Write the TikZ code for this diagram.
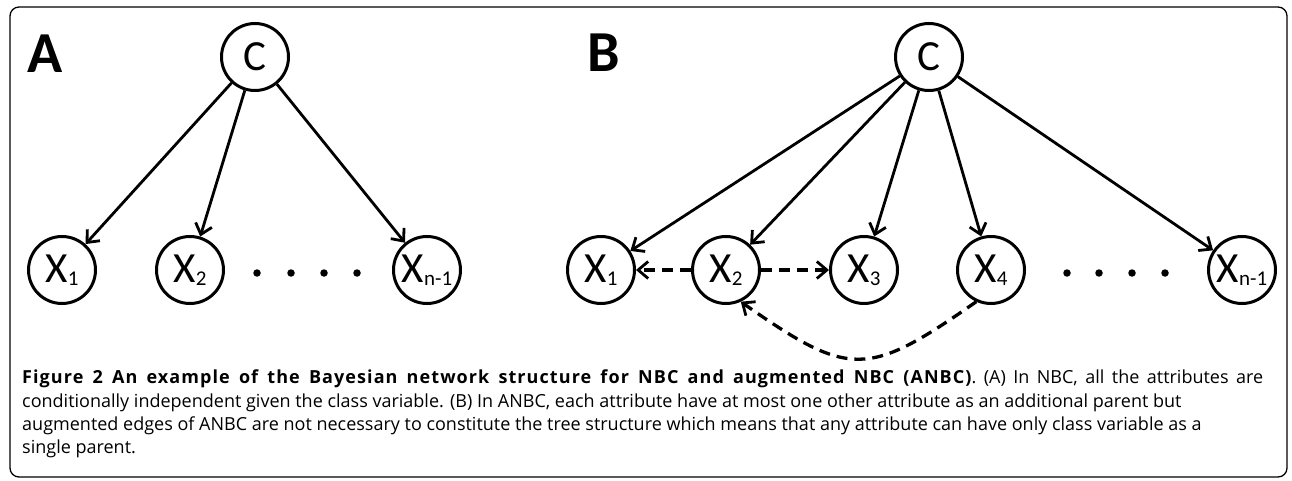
\documentclass[tikz,border=0pt]{standalone}
\usepackage{fontspec}
\setmainfont{Open Sans}
\newfontfamily\nodefont{Carlito}
\newfontfamily\capbold[LetterSpace=6]{Open Sans Bold}
\usetikzlibrary{arrows.meta}
\newcommand\mysub[1]{\raisebox{-3pt}{\fontsize{21}{21}\selectfont #1}}
\begin{document}
\begin{tikzpicture}[x=1pt,y=1pt,
  var/.style={circle, draw, line width=3pt, minimum size=67pt, inner sep=0pt,
    font=\nodefont\fontsize{43}{43}\selectfont},
  arr/.style={line width=2.8pt, -{Straight Barb[length=10pt,width=17pt,line width=2.8pt]}},
  darr/.style={line width=3.3pt, dash pattern=on 11pt off 7pt,
    -{Straight Barb[length=10pt,width=17pt,line width=2.8pt]}},
  dotn/.style={circle, fill, minimum size=7.5pt, inner sep=0pt},
  panel/.style={font=\nodefont\bfseries\fontsize{58}{58}\selectfont, inner sep=0pt, anchor=base west},
  capline/.style={anchor=base west, inner sep=0pt, font=\fontsize{18}{18}\selectfont}]
\useasboundingbox (0,0) rectangle (1292,480);
\draw[line width=1.3pt, rounded corners=9pt] (10,3) rectangle (1287,473);
% panel A
\node[panel] (la) at (27,407) {A};
\node[var] (ca) at (255,423) {C};
\node[var] (a1) at (62,210) {X\mysub{1}};
\node[var] (a2) at (190,210) {X\mysub{2}};
\node[var] (an) at (427,210) {X\mysub{n-1}};
\node[dotn] (ad1) at (257,207) {};
\node[dotn] (ad2) at (291,207) {};
\node[dotn] (ad3) at (324,207) {};
\node[dotn] (ad4) at (357,207) {};
\draw[arr] (ca) -- (a1);
\draw[arr] (ca) -- (a2);
\draw[arr] (ca) -- (an);
% panel B
\node[panel] (lb) at (587,408) {B};
\node[var] (cb) at (929,423) {C};
\node[var] (b1) at (601,210) {X\mysub{1}};
\node[var] (b2) at (726,210) {X\mysub{2}};
\node[var] (b3) at (864,210) {X\mysub{3}};
\node[var] (b4) at (991,210) {X\mysub{4}};
\node[var] (bn) at (1242,210) {X\mysub{n-1}};
\node[dotn] (bd1) at (1067,207) {};
\node[dotn] (bd2) at (1099,207) {};
\node[dotn] (bd3) at (1132,207) {};
\node[dotn] (bd4) at (1165,207) {};
\draw[arr] (cb) -- (b1);
\draw[arr] (cb) -- (b2);
\draw[arr] (cb) -- (b3);
\draw[arr] (cb) -- (b4);
\draw[arr] (cb) -- (bn);
\draw[darr] (b2) -- (b1);
\draw[darr] (b2) -- (b3);
\draw[darr] (b4.245) to[out=215, in=-35, looseness=1.45] (b2.-65);
% caption
\node[capline] (c1) at (22,97) {\makebox[1241pt][s]{{\capbold Figure 2 An example of the Bayesian network structure for NBC and augmented NBC (ANBC)}. (A) In NBC, all the attributes are}};
\node[capline] (c2) at (22,73) {conditionally independent given the class variable. (B) In ANBC, each attribute have at most one other attribute as an additional parent but};
\node[capline] (c3) at (22,50) {augmented edges of ANBC are not necessary to constitute the tree structure which means that any attribute can have only class variable as a};
\node[capline] (c4) at (22,27) {single parent.};
\end{tikzpicture}
\end{document}
